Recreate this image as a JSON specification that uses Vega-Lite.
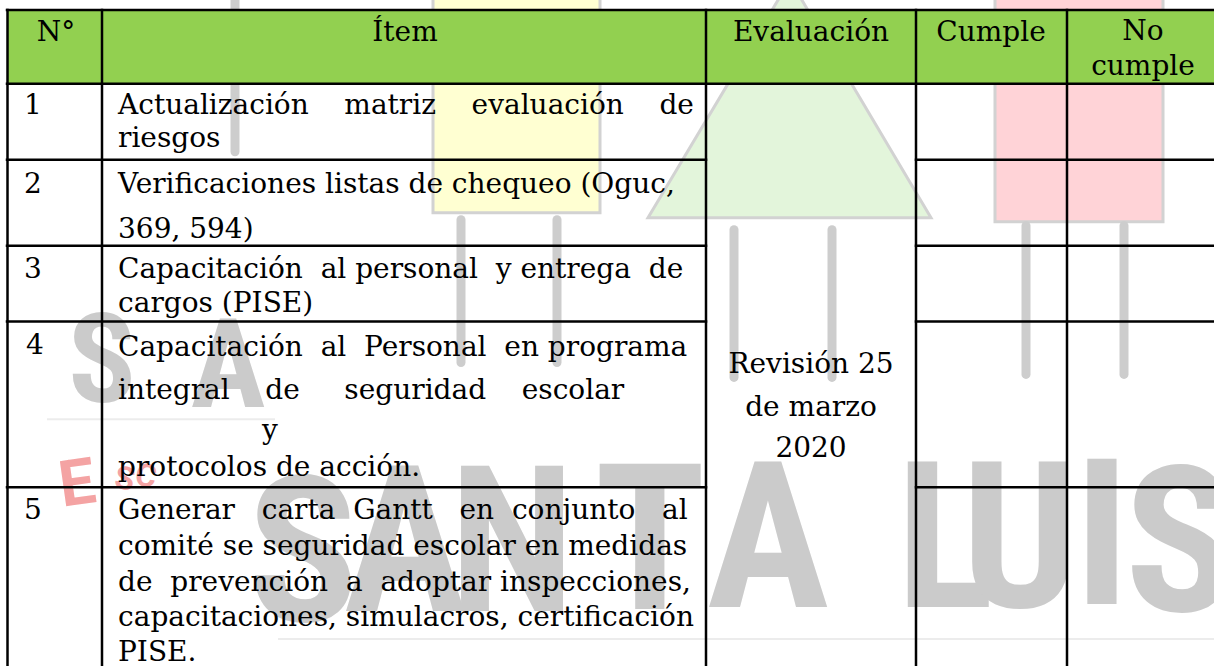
{
  "$schema": "https://vega.github.io/schema/vega-lite/v6.json",
  "autosize": {"type": "fit", "contains": "padding"},
  "width": 1214,
  "height": 667,
  "padding": 0,
  "background": "#ffffff",
  "view": {"stroke": null},
  "datasets": {
    "cuerpos": [
      {"parte": "amarillo", "x": 433, "x2": 600, "y": -10, "y2": 213},
      {"parte": "rosado", "x": 995, "x2": 1163, "y": -10, "y2": 222}
    ],
    "triangulo": [
      {"x": 648, "y": 218, "y2": 218},
      {"x": 790, "y": -20, "y2": 218},
      {"x": 931, "y": 218, "y2": 218}
    ],
    "piernas": [
      {"x": 235, "y": -5, "y2": 152},
      {"x": 461, "y": 220, "y2": 363},
      {"x": 557, "y": 220, "y2": 363},
      {"x": 734, "y": 230, "y2": 378},
      {"x": 832, "y": 230, "y2": 378},
      {"x": 1026, "y": 226, "y2": 375},
      {"x": 1124, "y": 226, "y2": 375}
    ],
    "lineas_tenues": [
      {"x": 47, "x2": 275, "y": 420},
      {"x": 278, "x2": 1214, "y": 640}
    ],
    "letras_grandes": [
      {"ch": "S", "x": 303, "y": 622},
      {"ch": "A", "x": 405, "y": 612},
      {"ch": "N", "x": 512, "y": 612},
      {"ch": "T", "x": 650, "y": 610},
      {"ch": "A", "x": 768, "y": 608},
      {"ch": "L", "x": 945, "y": 608},
      {"ch": "U", "x": 1020, "y": 608},
      {"ch": "I", "x": 1102, "y": 605},
      {"ch": "S", "x": 1180, "y": 612}
    ],
    "letras_medianas": [
      {"ch": "S", "x": 102, "y": 403},
      {"ch": "A", "x": 228, "y": 408}
    ],
    "letra_e": [
      {"ch": "E", "x": 80, "y": 505}
    ],
    "letras_sc": [
      {"ch": "S", "x": 123, "y": 490},
      {"ch": "C", "x": 144, "y": 487}
    ],
    "encabezado": [
      {"x": 7, "x2": 1220, "y": 10, "y2": 84}
    ],
    "bordes": [
      {"x": 7, "x2": 1220, "y": 10, "y2": 10},
      {"x": 7, "x2": 1220, "y": 84, "y2": 84},
      {"x": 7, "x2": 706, "y": 160, "y2": 160},
      {"x": 916, "x2": 1220, "y": 160, "y2": 160},
      {"x": 7, "x2": 706, "y": 246, "y2": 246},
      {"x": 916, "x2": 1220, "y": 246, "y2": 246},
      {"x": 7, "x2": 706, "y": 322, "y2": 322},
      {"x": 916, "x2": 1220, "y": 322, "y2": 322},
      {"x": 7, "x2": 706, "y": 488, "y2": 488},
      {"x": 916, "x2": 1220, "y": 488, "y2": 488},
      {"x": 7.5, "x2": 7.5, "y": 10, "y2": 680},
      {"x": 102, "x2": 102, "y": 10, "y2": 680},
      {"x": 706, "x2": 706, "y": 10, "y2": 680},
      {"x": 916, "x2": 916, "y": 10, "y2": 680},
      {"x": 1067, "x2": 1067, "y": 10, "y2": 680}
    ],
    "textos_centrados": [
      {"t": "N°", "x": 56, "y": 41},
      {"t": "Ítem", "x": 405, "y": 41},
      {"t": "Evaluación", "x": 811, "y": 41},
      {"t": "Cumple", "x": 991, "y": 41},
      {"t": "No", "x": 1143, "y": 40},
      {"t": "cumple", "x": 1143, "y": 75},
      {"t": "Revisión 25", "x": 811, "y": 374},
      {"t": "de marzo", "x": 811, "y": 417},
      {"t": "2020", "x": 811, "y": 458}
    ],
    "textos_izquierda": [
      {"t": "1", "x": 24, "y": 114},
      {"t": "Actualización\u00a0\u00a0\u00a0\u00a0matriz\u00a0\u00a0\u00a0\u00a0evaluación\u00a0\u00a0\u00a0\u00a0de", "x": 118, "y": 114},
      {"t": "riesgos", "x": 118, "y": 147},
      {"t": "2", "x": 24, "y": 193},
      {"t": "Verificaciones listas de chequeo (Oguc,", "x": 118, "y": 193},
      {"t": "369, 594)", "x": 118, "y": 238},
      {"t": "3", "x": 24, "y": 278},
      {"t": "Capacitación\u00a0\u00a0al personal\u00a0\u00a0y entrega\u00a0\u00a0de", "x": 118, "y": 278},
      {"t": "cargos (PISE)", "x": 118, "y": 312},
      {"t": "4", "x": 26, "y": 355},
      {"t": "Capacitación\u00a0\u00a0al\u00a0\u00a0Personal\u00a0\u00a0en programa", "x": 118, "y": 357},
      {"t": "integral\u00a0\u00a0\u00a0\u00a0de\u00a0\u00a0\u00a0\u00a0\u00a0seguridad\u00a0\u00a0\u00a0\u00a0escolar", "x": 118, "y": 400},
      {"t": "y", "x": 262, "y": 440},
      {"t": "protocolos de acción.", "x": 118, "y": 477},
      {"t": "5", "x": 24, "y": 520},
      {"t": "Generar\u00a0\u00a0\u00a0carta\u00a0\u00a0Gantt\u00a0\u00a0\u00a0en\u00a0\u00a0conjunto\u00a0\u00a0\u00a0al", "x": 118, "y": 520},
      {"t": "comité se seguridad escolar en medidas", "x": 118, "y": 556},
      {"t": "de\u00a0\u00a0prevención\u00a0\u00a0a\u00a0\u00a0adoptar inspecciones,", "x": 118, "y": 592},
      {"t": "capacitaciones, simulacros, certificación", "x": 118, "y": 627},
      {"t": "PISE.", "x": 118, "y": 662}
    ]
  },
  "layer": [
    {
      "data": {"name": "cuerpos"},
      "mark": {"type": "rect", "stroke": "#d2d2d2", "strokeWidth": 3, "clip": true},
      "encoding": {
        "x": {"field": "x", "type": "quantitative", "scale": {"domain": [0, 1214], "nice": false, "zero": false}, "axis": null},
        "x2": {"field": "x2"},
        "y": {"field": "y", "type": "quantitative", "scale": {"domain": [0, 667], "nice": false, "zero": false, "reverse": true}, "axis": null},
        "y2": {"field": "y2"},
        "color": {"field": "parte", "type": "nominal", "scale": {"domain": ["amarillo", "rosado"], "range": ["#ffffd2", "#ffd3d7"]}, "legend": null}
      }
    },
    {
      "data": {"name": "triangulo"},
      "mark": {"type": "area", "color": "#e3f5db", "stroke": "#d2d2d2", "strokeWidth": 3, "clip": true},
      "encoding": {
        "x": {"field": "x", "type": "quantitative", "scale": {"domain": [0, 1214], "nice": false, "zero": false}, "axis": null},
        "y": {"field": "y", "type": "quantitative", "scale": {"domain": [0, 667], "nice": false, "zero": false, "reverse": true}, "axis": null},
        "y2": {"field": "y2"}
      }
    },
    {
      "data": {"name": "piernas"},
      "mark": {"type": "rule", "color": "#cdcdcd", "strokeWidth": 9, "strokeCap": "round", "clip": true},
      "encoding": {
        "x": {"field": "x", "type": "quantitative", "scale": {"domain": [0, 1214], "nice": false, "zero": false}, "axis": null},
        "y": {"field": "y", "type": "quantitative", "scale": {"domain": [0, 667], "nice": false, "zero": false, "reverse": true}, "axis": null},
        "y2": {"field": "y2"}
      }
    },
    {
      "data": {"name": "lineas_tenues"},
      "mark": {"type": "rule", "color": "#ececec", "strokeWidth": 2, "clip": true},
      "encoding": {
        "x": {"field": "x", "type": "quantitative", "scale": {"domain": [0, 1214], "nice": false, "zero": false}, "axis": null},
        "x2": {"field": "x2"},
        "y": {"field": "y", "type": "quantitative", "scale": {"domain": [0, 667], "nice": false, "zero": false, "reverse": true}, "axis": null}
      }
    },
    {
      "data": {"name": "letras_grandes"},
      "mark": {"type": "text", "font": "Roboto Condensed, Open Sans Condensed, Liberation Sans Narrow, Roboto, Liberation Sans", "fontWeight": "bold", "fontSize": 205, "color": "#cbcbcb", "align": "center", "baseline": "alphabetic", "clip": true},
      "encoding": {
        "x": {"field": "x", "type": "quantitative", "scale": {"domain": [0, 1214], "nice": false, "zero": false}, "axis": null},
        "y": {"field": "y", "type": "quantitative", "scale": {"domain": [0, 667], "nice": false, "zero": false, "reverse": true}, "axis": null},
        "text": {"field": "ch"}
      }
    },
    {
      "data": {"name": "letras_medianas"},
      "mark": {"type": "text", "font": "Roboto Condensed, Open Sans Condensed, Liberation Sans Narrow, Roboto, Liberation Sans", "fontWeight": "bold", "fontSize": 125, "color": "#cbcbcb", "align": "center", "baseline": "alphabetic"},
      "encoding": {
        "x": {"field": "x", "type": "quantitative", "scale": {"domain": [0, 1214], "nice": false, "zero": false}, "axis": null},
        "y": {"field": "y", "type": "quantitative", "scale": {"domain": [0, 667], "nice": false, "zero": false, "reverse": true}, "axis": null},
        "text": {"field": "ch"}
      }
    },
    {
      "data": {"name": "letra_e"},
      "mark": {"type": "text", "font": "Roboto, Liberation Sans", "fontWeight": "bold", "fontSize": 64, "color": "#f4a3a3", "align": "center", "baseline": "alphabetic", "angle": -8},
      "encoding": {
        "x": {"field": "x", "type": "quantitative", "scale": {"domain": [0, 1214], "nice": false, "zero": false}, "axis": null},
        "y": {"field": "y", "type": "quantitative", "scale": {"domain": [0, 667], "nice": false, "zero": false, "reverse": true}, "axis": null},
        "text": {"field": "ch"}
      }
    },
    {
      "data": {"name": "letras_sc"},
      "mark": {"type": "text", "font": "Roboto, Liberation Sans", "fontWeight": "bold", "fontSize": 32, "color": "#f4a3a3", "align": "center", "baseline": "alphabetic", "angle": 10},
      "encoding": {
        "x": {"field": "x", "type": "quantitative", "scale": {"domain": [0, 1214], "nice": false, "zero": false}, "axis": null},
        "y": {"field": "y", "type": "quantitative", "scale": {"domain": [0, 667], "nice": false, "zero": false, "reverse": true}, "axis": null},
        "text": {"field": "ch"}
      }
    },
    {
      "data": {"name": "encabezado"},
      "mark": {"type": "rect", "color": "#92d050", "clip": true},
      "encoding": {
        "x": {"field": "x", "type": "quantitative", "scale": {"domain": [0, 1214], "nice": false, "zero": false}, "axis": null},
        "x2": {"field": "x2"},
        "y": {"field": "y", "type": "quantitative", "scale": {"domain": [0, 667], "nice": false, "zero": false, "reverse": true}, "axis": null},
        "y2": {"field": "y2"}
      }
    },
    {
      "data": {"name": "bordes"},
      "mark": {"type": "rule", "color": "#000000", "strokeWidth": 2.5, "strokeCap": "square", "clip": true},
      "encoding": {
        "x": {"field": "x", "type": "quantitative", "scale": {"domain": [0, 1214], "nice": false, "zero": false}, "axis": null},
        "x2": {"field": "x2"},
        "y": {"field": "y", "type": "quantitative", "scale": {"domain": [0, 667], "nice": false, "zero": false, "reverse": true}, "axis": null},
        "y2": {"field": "y2"}
      }
    },
    {
      "data": {"name": "textos_centrados"},
      "mark": {"type": "text", "font": "DejaVu Serif", "fontSize": 28, "color": "#000000", "align": "center", "baseline": "alphabetic"},
      "encoding": {
        "x": {"field": "x", "type": "quantitative", "scale": {"domain": [0, 1214], "nice": false, "zero": false}, "axis": null},
        "y": {"field": "y", "type": "quantitative", "scale": {"domain": [0, 667], "nice": false, "zero": false, "reverse": true}, "axis": null},
        "text": {"field": "t"}
      }
    },
    {
      "data": {"name": "textos_izquierda"},
      "mark": {"type": "text", "font": "DejaVu Serif", "fontSize": 28, "color": "#000000", "align": "left", "baseline": "alphabetic"},
      "encoding": {
        "x": {"field": "x", "type": "quantitative", "scale": {"domain": [0, 1214], "nice": false, "zero": false}, "axis": null},
        "y": {"field": "y", "type": "quantitative", "scale": {"domain": [0, 667], "nice": false, "zero": false, "reverse": true}, "axis": null},
        "text": {"field": "t"}
      }
    }
  ]
}
